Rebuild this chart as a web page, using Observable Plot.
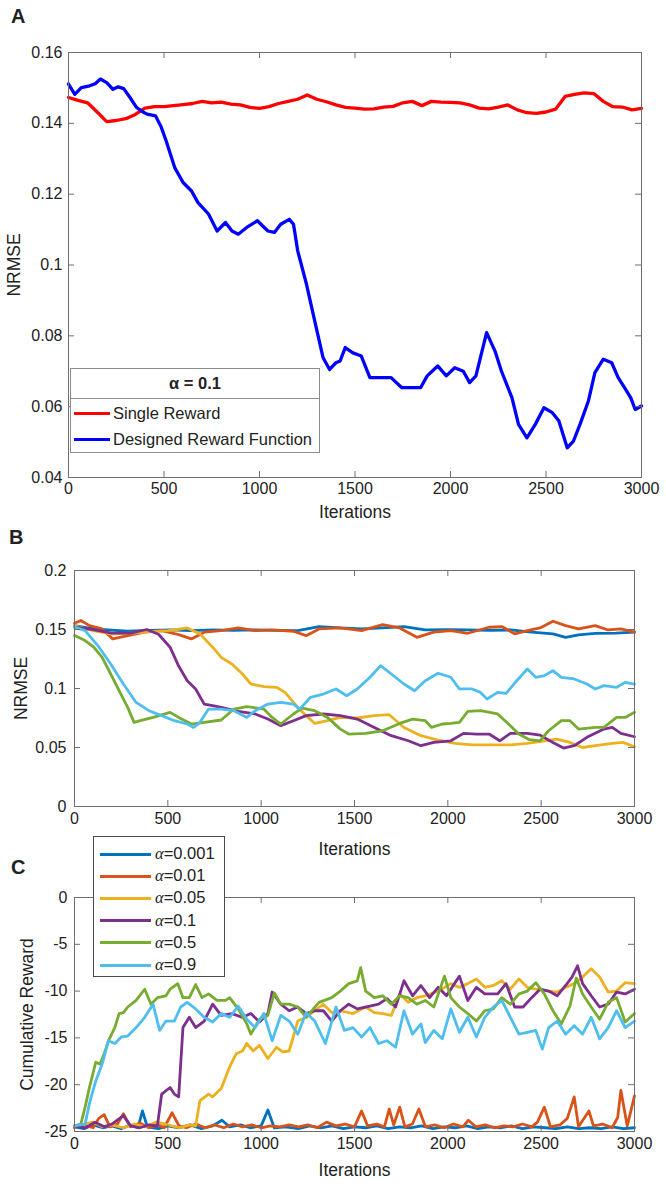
<!DOCTYPE html>
<html>
<head>
<meta charset="utf-8">
<script src="https://cdn.jsdelivr.net/npm/d3@7"></script>
<script src="https://cdn.jsdelivr.net/npm/@observablehq/plot@0.6"></script>
<style>
  html, body { margin: 0; padding: 0; background: #fff; }
  #root { position: relative; width: 666px; height: 1187px; overflow: hidden; font-family: "Liberation Sans", Arial, Helvetica, sans-serif; color: #222; }
  .pnl { position: absolute; left: 0; }
  .letter { position: absolute; font-weight: bold; font-size: 20px; line-height: 1; }
  .legend { position: absolute; background: #fff; box-sizing: border-box; }
  .legend .row { position: absolute; left: 0; height: 0; }
  .legend .sw { position: absolute; height: 3px; margin-top: -1.5px; }
  .legend .lt { position: absolute; white-space: nowrap; font-size: 16.5px; line-height: 1; transform: translateY(-50%); }
  .greek { font-family: "Liberation Serif", "DejaVu Serif", serif; font-style: italic; }
</style>
</head>
<body>
<div id="root"></div>
<script>
// ---------- shared ----------
const xTicks = [0, 500, 1000, 1500, 2000, 2500, 3000];
const iterGrid50 = d3.range(0, 3001, 50);

// ---------- Panel A (alpha = 0.1) ----------
const yTicksA = [0.04, 0.06, 0.08, 0.1, 0.12, 0.14, 0.16];
const seriesNamesA = ["Single Reward", "Designed Reward Function"];
const colorsA = ["#ff0000", "#0000ff"];
const singleRewardA = [0.1473,0.1465,0.1458,0.1432,0.1405,0.1408,0.1413,0.1425,0.1443,0.1447,0.1447,0.1450,0.1453,0.1456,0.1462,0.1458,0.1460,0.1454,0.1452,0.1445,0.1442,0.1447,0.1456,0.1462,0.1468,0.1480,0.1468,0.1461,0.1452,0.1445,0.1443,0.1440,0.1441,0.1446,0.1448,0.1458,0.1462,0.1450,0.1462,0.1460,0.1459,0.1458,0.1452,0.1443,0.1441,0.1446,0.1452,0.1438,0.1430,0.1428,0.1432,0.1440,0.1476,0.1482,0.1486,0.1484,0.1462,0.1447,0.1446,0.1438,0.1442];
const designedRewardA = [[0,0.1511],[33,0.1482],[67,0.1501],[111,0.1506],[140,0.1512],[167,0.1525],[200,0.1515],[233,0.1496],[260,0.1503],[289,0.1498],[322,0.1473],[356,0.1445],[390,0.1432],[411,0.1426],[456,0.1421],[485,0.1390],[511,0.1351],[556,0.1275],[600,0.1233],[644,0.1209],[678,0.1176],[733,0.1144],[778,0.1096],[822,0.1120],[856,0.1096],[889,0.1087],[933,0.1106],[989,0.1125],[1044,0.1096],[1078,0.1092],[1111,0.1115],[1156,0.1129],[1178,0.1115],[1200,0.1040],[1244,0.0950],[1289,0.0842],[1333,0.0738],[1367,0.0705],[1400,0.0724],[1422,0.0729],[1449,0.0767],[1489,0.0752],[1533,0.0743],[1578,0.0682],[1644,0.0682],[1689,0.0682],[1744,0.0654],[1844,0.0654],[1878,0.0687],[1933,0.0715],[1978,0.0687],[2022,0.0710],[2067,0.0700],[2100,0.0668],[2133,0.0687],[2189,0.0809],[2233,0.0757],[2267,0.0700],[2322,0.0625],[2356,0.0550],[2400,0.0512],[2444,0.0550],[2489,0.0597],[2533,0.0583],[2567,0.0560],[2611,0.0484],[2644,0.0503],[2678,0.0550],[2722,0.0616],[2756,0.0696],[2800,0.0734],[2844,0.0724],[2878,0.0682],[2911,0.0654],[2944,0.0625],[2967,0.0592],[3000,0.0602]];

// ---------- Panels B and C (alpha sweep) ----------
const alphaLabels = ["0.001", "0.01", "0.05", "0.1", "0.5", "0.9"];
const alphaColors = ["#0072BD", "#D95319", "#EDB120", "#7E2F8E", "#77AC30", "#4DBEEE"];
const yTicksB = [0, 0.05, 0.1, 0.15, 0.2];
const yTicksC = [-25, -20, -15, -10, -5, 0];

const nrmse0001 = [[0,0.1533],[103,0.1505],[200,0.1495],[285,0.1485],[400,0.1492],[512,0.1496],[620,0.1490],[740,0.1496],[850,0.1492],[968,0.1496],[1080,0.1493],[1196,0.1490],[1310,0.1525],[1424,0.1513],[1540,0.1505],[1651,0.1513],[1765,0.1525],[1879,0.1496],[2000,0.1498],[2107,0.1496],[2220,0.1492],[2335,0.1496],[2449,0.1477],[2563,0.1463],[2631,0.1434],[2700,0.1455],[2790,0.1468],[2900,0.1470],[3000,0.1477]];
const nrmse001 = [[0,0.1553],[34,0.1576],[80,0.1533],[148,0.1505],[205,0.1420],[285,0.1448],[376,0.1477],[467,0.1490],[558,0.1457],[626,0.1420],[695,0.1477],[786,0.1490],[877,0.1513],[968,0.1490],[1059,0.1496],[1173,0.1485],[1241,0.1448],[1310,0.1505],[1424,0.1513],[1538,0.1490],[1651,0.1542],[1742,0.1513],[1834,0.1434],[1925,0.1477],[2016,0.1490],[2107,0.1468],[2221,0.1519],[2289,0.1525],[2358,0.1463],[2426,0.1490],[2494,0.1513],[2563,0.1570],[2631,0.1533],[2700,0.1505],[2790,0.1533],[2858,0.1496],[2927,0.1505],[3000,0.1477]];
const nrmse005 = [[0,0.1530],[100,0.1490],[200,0.1460],[300,0.1470],[400,0.1480],[500,0.1490],[550,0.1500],[604,0.1513],[672,0.1463],[740,0.1350],[786,0.1264],[843,0.1208],[900,0.1123],[945,0.1038],[1014,0.1016],[1082,0.1010],[1128,0.0967],[1196,0.0840],[1241,0.0770],[1287,0.0704],[1355,0.0727],[1424,0.0755],[1515,0.0750],[1606,0.0770],[1686,0.0778],[1765,0.0670],[1856,0.0600],[1948,0.0563],[2039,0.0535],[2130,0.0523],[2244,0.0523],[2335,0.0523],[2426,0.0535],[2517,0.0557],[2585,0.0571],[2654,0.0543],[2722,0.0500],[2790,0.0515],[2881,0.0535],[2938,0.0543],[3000,0.0506]];
const nrmse01 = [[0,0.1520],[100,0.1500],[200,0.1470],[300,0.1470],[387,0.1500],[450,0.1460],[512,0.1350],[558,0.1190],[604,0.1066],[649,0.0996],[695,0.0868],[740,0.0854],[786,0.0840],[877,0.0806],[968,0.0784],[1036,0.0741],[1105,0.0685],[1173,0.0727],[1241,0.0770],[1333,0.0784],[1424,0.0770],[1515,0.0741],[1606,0.0670],[1697,0.0600],[1788,0.0557],[1856,0.0515],[1925,0.0543],[2016,0.0557],[2084,0.0620],[2153,0.0614],[2221,0.0614],[2278,0.0557],[2335,0.0620],[2426,0.0620],[2494,0.0605],[2563,0.0543],[2620,0.0495],[2677,0.0515],[2745,0.0586],[2836,0.0656],[2881,0.0670],[2927,0.0620],[3000,0.0591]];
const nrmse05 = [[0,0.1450],[57,0.1406],[103,0.1350],[148,0.1264],[194,0.1123],[239,0.0981],[285,0.0840],[319,0.0713],[353,0.0727],[421,0.0755],[512,0.0798],[558,0.0755],[626,0.0699],[695,0.0713],[786,0.0733],[854,0.0826],[923,0.0846],[1014,0.0826],[1059,0.0755],[1105,0.0699],[1173,0.0784],[1219,0.0834],[1287,0.0812],[1355,0.0755],[1424,0.0656],[1469,0.0614],[1560,0.0620],[1651,0.0642],[1742,0.0704],[1811,0.0741],[1879,0.0727],[1913,0.0670],[1970,0.0699],[2016,0.0704],[2062,0.0713],[2107,0.0806],[2175,0.0812],[2267,0.0784],[2335,0.0685],[2380,0.0614],[2437,0.0566],[2494,0.0557],[2540,0.0642],[2608,0.0727],[2654,0.0727],[2700,0.0656],[2790,0.0670],[2836,0.0670],[2904,0.0755],[2950,0.0755],[3000,0.0798]];
const nrmse09 = [[0,0.1520],[57,0.1490],[125,0.1364],[194,0.1208],[262,0.1038],[330,0.0882],[399,0.0812],[467,0.0770],[535,0.0727],[604,0.0699],[638,0.0670],[672,0.0713],[718,0.0826],[786,0.0826],[854,0.0812],[923,0.0755],[968,0.0812],[1036,0.0868],[1105,0.0882],[1173,0.0868],[1207,0.0826],[1264,0.0925],[1333,0.0953],[1401,0.0996],[1458,0.0939],[1515,0.0996],[1583,0.1095],[1640,0.1194],[1697,0.1123],[1765,0.1038],[1822,0.0981],[1879,0.1066],[1948,0.1129],[2016,0.1095],[2062,0.0996],[2130,0.0996],[2175,0.0967],[2210,0.0911],[2267,0.0967],[2312,0.0959],[2369,0.1066],[2426,0.1165],[2471,0.1095],[2517,0.1109],[2563,0.1151],[2608,0.1095],[2677,0.1081],[2745,0.1038],[2790,0.0996],[2836,0.1024],[2904,0.1010],[2950,0.1052],[3000,0.1038]];

const reward0001 = [[0,-24.5],[50,-24.7],[100,-24.3],[150,-24.6],[200,-24.4],[250,-24.7],[300,-24.3],[340,-24.6],[364,-22.8],[390,-24.5],[450,-24.7],[500,-24.4],[560,-24.6],[620,-24.3],[680,-24.7],[740,-24.4],[790,-23.8],[830,-24.5],[890,-24.3],[940,-24.6],[1000,-24.4],[1036,-22.7],[1070,-24.6],[1130,-24.5],[1200,-24.7],[1260,-24.4],[1320,-24.6],[1380,-24.4],[1440,-24.7],[1500,-24.5],[1560,-24.6],[1620,-24.4],[1680,-24.7],[1740,-24.5],[1800,-24.6],[1860,-24.4],[1920,-24.7],[1980,-24.5],[2040,-24.6],[2100,-24.4],[2160,-24.7],[2220,-24.5],[2280,-24.6],[2340,-24.4],[2400,-24.7],[2460,-24.5],[2520,-24.6],[2580,-24.7],[2640,-24.5],[2700,-24.7],[2760,-24.6],[2820,-24.7],[2880,-24.5],[2940,-24.7],[3000,-24.6]];
const reward001 = [[0,-24.6],[50,-24.3],[100,-24.6],[130,-23.6],[159,-23.2],[190,-24.5],[230,-24.2],[262,-23.1],[300,-24.5],[350,-24.1],[400,-24.6],[450,-24.3],[480,-24.6],[523,-23.0],[560,-24.4],[600,-24.6],[650,-24.2],[700,-24.6],[750,-24.3],[800,-24.6],[850,-24.2],[900,-24.5],[950,-24.3],[1000,-24.6],[1050,-24.4],[1100,-24.5],[1150,-24.3],[1200,-24.5],[1250,-24.3],[1300,-24.6],[1350,-24.0],[1400,-24.4],[1450,-24.2],[1500,-24.5],[1538,-22.8],[1570,-24.4],[1620,-24.2],[1660,-24.5],[1686,-22.6],[1710,-24.3],[1742,-22.4],[1770,-24.5],[1810,-24.2],[1845,-22.6],[1880,-24.5],[1930,-24.3],[1980,-24.6],[2030,-24.2],[2080,-24.5],[2110,-23.8],[2150,-24.5],[2200,-24.3],[2250,-24.6],[2300,-24.4],[2350,-24.5],[2400,-24.2],[2450,-24.5],[2480,-24.0],[2517,-22.4],[2550,-24.5],[2600,-24.3],[2640,-23.6],[2677,-21.3],[2700,-24.5],[2756,-22.8],[2780,-24.4],[2830,-24.2],[2880,-24.6],[2910,-23.5],[2927,-20.6],[2961,-24.4],[3000,-21.2]];
const reward005 = [[0,-24.4],[50,-24.2],[100,-24.0],[150,-24.5],[200,-24.3],[260,-24.6],[320,-24.2],[380,-24.5],[440,-24.0],[500,-24.3],[560,-24.6],[620,-24.3],[649,-24.4],[672,-21.7],[718,-21.0],[740,-21.3],[786,-20.4],[831,-18.1],[866,-16.7],[900,-16.4],[923,-15.6],[957,-16.4],[991,-15.8],[1036,-17.2],[1082,-16.0],[1116,-16.5],[1150,-16.4],[1196,-13.2],[1241,-12.8],[1287,-12.1],[1333,-11.4],[1378,-12.3],[1424,-12.1],[1492,-12.4],[1560,-11.7],[1606,-12.3],[1651,-12.4],[1697,-12.6],[1742,-10.3],[1788,-11.2],[1834,-10.7],[1879,-10.5],[1948,-10.0],[2016,-9.2],[2062,-9.6],[2107,-9.2],[2153,-8.7],[2198,-9.6],[2244,-9.4],[2289,-8.9],[2335,-9.8],[2381,-8.7],[2426,-9.6],[2471,-9.8],[2540,-10.0],[2586,-10.1],[2631,-9.6],[2677,-9.2],[2722,-8.5],[2768,-7.6],[2813,-8.5],[2859,-10.1],[2904,-10.0],[2950,-9.1],[3000,-9.2]];
const reward01 = [[0,-24.4],[60,-24.6],[110,-24.0],[160,-24.5],[200,-24.2],[262,-23.3],[300,-24.4],[350,-24.6],[400,-24.3],[444,-24.4],[467,-21.0],[512,-20.3],[535,-21.0],[558,-21.3],[581,-13.9],[615,-12.8],[649,-13.9],[695,-13.2],[740,-11.4],[786,-12.6],[843,-12.4],[900,-12.8],[945,-12.4],[991,-13.3],[1036,-12.4],[1059,-10.1],[1105,-11.4],[1150,-12.1],[1196,-11.7],[1241,-12.4],[1287,-12.1],[1333,-12.1],[1378,-13.2],[1424,-12.1],[1469,-11.4],[1515,-11.9],[1583,-11.6],[1629,-11.4],[1674,-10.8],[1720,-11.7],[1765,-8.9],[1811,-10.5],[1856,-9.4],[1902,-10.7],[1948,-9.6],[1993,-10.5],[2062,-8.4],[2107,-11.0],[2153,-9.6],[2198,-10.3],[2267,-10.3],[2312,-9.2],[2358,-11.7],[2403,-11.7],[2449,-10.7],[2494,-9.8],[2540,-10.0],[2586,-10.5],[2631,-9.4],[2665,-8.5],[2695,-7.3],[2722,-9.2],[2768,-10.5],[2813,-11.7],[2859,-11.4],[2904,-10.1],[2950,-10.3],[3000,-9.8]];
const reward05 = [[0,-24.4],[34,-24.2],[57,-22.4],[80,-20.3],[114,-17.6],[137,-17.8],[159,-16.7],[182,-15.3],[216,-13.9],[239,-12.4],[262,-12.3],[285,-11.7],[330,-11.0],[376,-9.8],[410,-11.4],[444,-10.7],[490,-10.5],[512,-9.8],[553,-9.2],[581,-10.7],[615,-10.7],[649,-9.3],[683,-10.7],[718,-10.3],[763,-11.0],[809,-11.0],[831,-10.7],[877,-11.9],[923,-13.5],[945,-14.6],[991,-13.0],[1036,-12.6],[1071,-10.2],[1105,-11.4],[1150,-11.4],[1196,-11.7],[1241,-12.8],[1310,-11.2],[1378,-10.7],[1424,-10.0],[1469,-9.2],[1515,-8.9],[1533,-7.5],[1560,-10.0],[1606,-10.7],[1651,-10.5],[1697,-11.4],[1742,-10.5],[1788,-10.7],[1834,-11.4],[1879,-11.0],[1925,-11.7],[1982,-8.4],[2016,-10.7],[2062,-11.7],[2107,-12.4],[2153,-13.2],[2198,-12.1],[2244,-11.9],[2289,-10.7],[2335,-11.4],[2381,-10.3],[2426,-10.0],[2471,-9.1],[2517,-10.3],[2563,-12.1],[2608,-13.5],[2654,-11.6],[2688,-8.6],[2722,-10.3],[2768,-11.7],[2813,-13.0],[2859,-11.2],[2904,-10.7],[2950,-13.3],[3000,-12.4]];
const reward09 = [[0,-24.4],[57,-24.2],[80,-22.0],[114,-19.6],[148,-17.8],[182,-15.3],[216,-15.6],[251,-14.9],[285,-14.8],[330,-13.9],[376,-12.8],[421,-11.4],[456,-14.2],[490,-13.2],[535,-13.2],[569,-11.7],[604,-11.2],[649,-11.9],[695,-12.8],[740,-13.3],[786,-12.4],[831,-12.8],[877,-11.6],[923,-13.0],[968,-13.9],[1014,-12.4],[1059,-15.3],[1105,-12.6],[1150,-13.2],[1196,-14.6],[1241,-12.3],[1287,-13.2],[1344,-15.6],[1401,-11.7],[1446,-14.2],[1492,-13.9],[1538,-14.9],[1583,-13.9],[1629,-15.6],[1674,-15.3],[1720,-16.0],[1765,-12.1],[1811,-14.6],[1856,-13.5],[1879,-15.5],[1925,-14.2],[1970,-15.1],[2016,-11.9],[2062,-14.4],[2107,-12.8],[2153,-14.9],[2198,-12.8],[2244,-11.7],[2289,-11.0],[2335,-12.8],[2381,-14.6],[2426,-14.4],[2471,-14.2],[2506,-16.2],[2540,-13.9],[2586,-13.2],[2631,-14.6],[2677,-13.7],[2722,-14.6],[2768,-12.8],[2813,-15.1],[2859,-13.9],[2904,-12.1],[2950,-13.9],[3000,-13.2]];

const nrmseSeries = [nrmse0001, nrmse001, nrmse005, nrmse01, nrmse05, nrmse09];
const rewardSeries = [reward0001, reward001, reward005, reward01, reward05, reward09];

// ---------- drawing ----------
const FONT = '"Liberation Sans", Arial, Helvetica, sans-serif';
const root = document.getElementById("root");

function makePanel(o) {
  const plotW = o.width - o.ml - o.mr;
  const plotH = o.height - o.mt - o.mb;
  const tick = 6;
  const axisColor = "#6e6e6e";
  const marks = [];
  o.series.forEach(s => {
    marks.push(Plot.line(s.data, {x: d => d[0], y: d => d[1], stroke: s.color, strokeWidth: o.sw, strokeLinejoin: "round"}));
  });
  marks.push(
    Plot.frame({stroke: axisColor, strokeWidth: 1}),
    Plot.ruleX(xTicks, {x: d => d, insetTop: plotH - tick, stroke: axisColor}),
    Plot.ruleX(xTicks, {x: d => d, insetBottom: plotH - tick, stroke: axisColor}),
    Plot.ruleY(o.yTicks, {y: d => d, insetRight: plotW - tick, stroke: axisColor}),
    Plot.ruleY(o.yTicks, {y: d => d, insetLeft: plotW - tick, stroke: axisColor}),
    Plot.text(xTicks, {x: d => d, frameAnchor: "bottom", dy: o.tickDy, text: d => String(d), fontSize: 16, fill: "#222"}),
    Plot.text(o.yTicks, {y: d => d, frameAnchor: "left", dx: o.yTickDx, textAnchor: "end", text: d => String(d), fontSize: 16, fill: "#222"}),
    Plot.text(["Iterations"], {frameAnchor: "bottom", dy: o.xLabelDy, textAnchor: "middle", fontSize: 17.5, fill: "#222"}),
    Plot.text([o.yLabel], {frameAnchor: "left", dx: o.yLabelDx, rotate: -90, textAnchor: "middle", fontSize: 17.5, fill: "#222"})
  );
  const svg = Plot.plot({
    width: o.width, height: o.height,
    marginTop: o.mt, marginBottom: o.mb, marginLeft: o.ml, marginRight: o.mr,
    x: {domain: [0, 3000], axis: null},
    y: {domain: o.yDomain, axis: null},
    style: {fontFamily: FONT, background: "transparent", overflow: "visible"},
    marks
  });
  const wrap = document.createElement("div");
  wrap.className = "pnl";
  wrap.style.top = o.top + "px";
  wrap.appendChild(svg);
  root.appendChild(wrap);
}

// Panel A
makePanel({
  top: 0, width: 666, height: 535, mt: 52, mb: 58, ml: 68, mr: 25,
  yDomain: [0.04, 0.16], yTicks: yTicksA, sw: 3.3,
  series: [
    {data: iterGrid50.map((x, i) => [x, singleRewardA[i]]), color: colorsA[0]},
    {data: designedRewardA, color: colorsA[1]}
  ],
  tickDy: 16, yTickDx: -6, xLabelDy: 40, yLabel: "NRMSE", yLabelDx: -54
});
// Panel B
makePanel({
  top: 535, width: 666, height: 330, mt: 35, mb: 59, ml: 74, mr: 32,
  yDomain: [0, 0.2], yTicks: yTicksB, sw: 2.8,
  series: nrmseSeries.map((d, i) => ({data: d, color: alphaColors[i]})),
  tickDy: 17, yTickDx: -8, xLabelDy: 48, yLabel: "NRMSE", yLabelDx: -53
});
// Panel C
makePanel({
  top: 865, width: 666, height: 322, mt: 32, mb: 56, ml: 74, mr: 32,
  yDomain: [-25, 0], yTicks: yTicksC, sw: 2.8,
  series: rewardSeries.map((d, i) => ({data: d, color: alphaColors[i]})),
  tickDy: 17, yTickDx: -7, xLabelDy: 44, yLabel: "Cumulative Reward", yLabelDx: -47
});

// panel letters
[["A", 11, 6], ["B", 9, 527], ["C", 11, 857]].forEach(([t, x, y]) => {
  const d = document.createElement("div");
  d.className = "letter"; d.textContent = t;
  d.style.left = x + "px"; d.style.top = y + "px";
  root.appendChild(d);
});

// legend A
(function () {
  const box = document.createElement("div");
  box.className = "legend";
  Object.assign(box.style, {left: "70px", top: "368px", width: "250px", height: "85px", border: "1px solid #8c8c8c"});
  const title = document.createElement("div");
  Object.assign(title.style, {position: "absolute", left: 0, top: 0, width: "100%", height: "29px", borderBottom: "1px solid #8c8c8c", fontWeight: "bold", fontSize: "16.5px", lineHeight: "29px", textAlign: "center"});
  title.textContent = "\u03b1 = 0.1";
  box.appendChild(title);
  seriesNamesA.forEach((name, i) => {
    const row = document.createElement("div");
    row.className = "row";
    row.style.top = (44 + i * 26) + "px";
    row.innerHTML = `<div class="sw" style="left:3px;width:36px;background:${colorsA[i]}"></div><div class="lt" style="left:42px">${name}</div>`;
    box.appendChild(row);
  });
  root.appendChild(box);
})();

// legend C
(function () {
  const box = document.createElement("div");
  box.className = "legend";
  Object.assign(box.style, {left: "93px", top: "836px", width: "132px", height: "141px", border: "1px solid #4a4a4a"});
  alphaLabels.forEach((a, i) => {
    const row = document.createElement("div");
    row.className = "row";
    row.style.top = (17 + i * 22.2) + "px";
    row.innerHTML = `<div class="sw" style="left:6px;width:51px;background:${alphaColors[i]}"></div><div class="lt" style="left:61px"><span class="greek">\u03b1</span>=${a}</div>`;
    box.appendChild(row);
  });
  root.appendChild(box);
})();
</script>
</body>
</html>
